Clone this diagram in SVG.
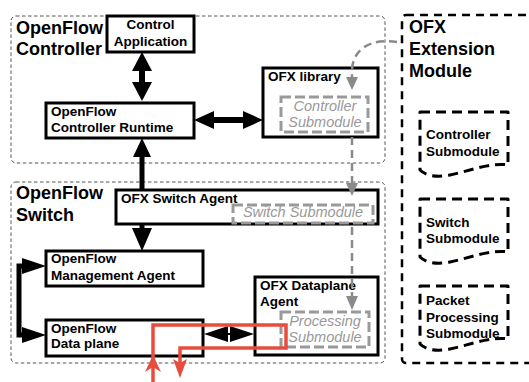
<svg xmlns="http://www.w3.org/2000/svg" width="529" height="382" viewBox="0 0 529 382">
<style>
text{font-family:"Liberation Sans",Arial,sans-serif;}
.title{font-size:18px;font-weight:bold;fill:#000;}
.lbl{font-size:13.5px;font-weight:bold;fill:#000;}
.sub{font-size:14.5px;font-style:italic;fill:#999;}
.region{fill:none;stroke:#555;stroke-width:1;stroke-dasharray:3.5,2.5;}
.node{fill:#fff;stroke:#000;stroke-width:3;}
.gbox{fill:none;stroke:#999;stroke-width:3;stroke-dasharray:10,4;}
.doc{fill:#fff;stroke:#000;stroke-width:3;stroke-dasharray:10,6;stroke-linejoin:round;}
.bl{fill:none;stroke:#000;}
.gl{fill:none;stroke:#8a8a8a;stroke-width:2.5;stroke-dasharray:8,5;}
.gh{fill:#8a8a8a;}
.red{fill:none;stroke:#e84c3d;stroke-width:3.5;}
.rh{fill:#e84c3d;}
</style>

<g id="ofc-region">
<rect class="region" x="11" y="16" width="374" height="147" rx="5"/>
<text class="title" x="16" y="34">OpenFlow</text>
<text class="title" x="16" y="55">Controller</text>
</g>
<g id="ofs-region">
<rect class="region" x="11" y="182" width="374" height="181" rx="5"/>
<text class="title" x="16" y="199">OpenFlow</text>
<text class="title" x="16" y="221">Switch</text>
</g>
<g id="ofx-module">
<rect x="402" y="15" width="140" height="348" rx="4" fill="none" stroke="#000" stroke-width="2.5" stroke-dasharray="8,6"/>
<text class="title" x="409" y="33">OFX</text>
<text class="title" x="409" y="55">Extension</text>
<text class="title" x="409" y="77">Module</text>
</g>

<g id="control-app">
<rect class="node" x="107" y="16" width="87" height="36"/>
<text class="lbl" x="150.5" y="29" text-anchor="middle">Control</text>
<text class="lbl" x="150.5" y="46" text-anchor="middle">Application</text>
</g>
<g id="controller-runtime">
<rect class="node" x="46" y="103" width="148" height="35"/>
<text class="lbl" x="51" y="116">OpenFlow</text>
<text class="lbl" x="51" y="132">Controller Runtime</text>
</g>
<g id="ofx-library">
<rect class="node" x="263" y="68" width="115" height="69"/>
<text class="lbl" x="268" y="81">OFX library</text>
</g>
<g id="controller-submodule">
<rect class="gbox" x="281" y="97" width="87" height="35"/>
<text class="sub" x="325" y="111" text-anchor="middle">Controller</text>
<text class="sub" x="325" y="127" text-anchor="middle">Submodule</text>
</g>
<g id="switch-agent">
<rect class="node" x="116" y="190" width="262" height="34"/>
<text class="lbl" x="121" y="203">OFX Switch Agent</text>
</g>
<g id="switch-submodule">
<rect class="gbox" x="233" y="205" width="140" height="18"/>
<text class="sub" x="303" y="217" text-anchor="middle">Switch Submodule</text>
</g>
<g id="mgmt-agent">
<rect class="node" x="46" y="251" width="157" height="35"/>
<text class="lbl" x="51" y="263">OpenFlow</text>
<text class="lbl" x="51" y="280">Management Agent</text>
</g>
<g id="data-plane">
<rect class="node" x="46" y="320" width="157" height="36"/>
<text class="lbl" x="51" y="333">OpenFlow</text>
<text class="lbl" x="51" y="348">Data plane</text>
</g>
<g id="dataplane-agent">
<rect class="node" x="255" y="277" width="123" height="78"/>
<text class="lbl" x="260" y="290">OFX Dataplane</text>
<text class="lbl" x="260" y="306">Agent</text>
</g>
<g id="processing-submodule">
<rect class="gbox" x="281" y="312" width="88" height="35"/>
<text class="sub" x="325" y="326" text-anchor="middle">Processing</text>
<text class="sub" x="325" y="342" text-anchor="middle">Submodule</text>
</g>

<g id="doc-controller">
<path class="doc" d="M420,112 H508 V165 C490,162 470,171 450,175 C435,178 425,175 420,170 Z"/>
<text class="lbl" x="426" y="139">Controller</text>
<text class="lbl" x="426" y="156">Submodule</text>
</g>
<g id="doc-switch">
<path class="doc" d="M420,199 H508 V252 C490,249 470,258 450,262 C435,265 425,262 420,257 Z"/>
<text class="lbl" x="426" y="227">Switch</text>
<text class="lbl" x="426" y="243">Submodule</text>
</g>
<g id="doc-packet">
<path class="doc" d="M420,286 H508 V339 C490,336 470,345 450,349 C435,352 425,349 420,344 Z"/>
<text class="lbl" x="426" y="305">Packet</text>
<text class="lbl" x="426" y="322">Processing</text>
<text class="lbl" x="426" y="338">Submodule</text>
</g>

<g id="connectors">
<line class="bl" x1="142" y1="68" x2="142" y2="86" stroke-width="6"/>
<polygon points="142,52 132,71 152,71"/>
<polygon points="142,101 132,82 152,82"/>
<line class="bl" x1="212" y1="120" x2="245" y2="120" stroke-width="6"/>
<polygon points="194,120 214,111 214,129"/>
<polygon points="263,120 243,111 243,129"/>
<line class="bl" x1="142" y1="190" x2="142" y2="154" stroke-width="5"/>
<polygon points="142,138 133,157 151,157"/>
<line class="bl" x1="142" y1="224" x2="142" y2="230" stroke-width="5"/>
<polygon points="142,251 132,228 152,228"/>
<path class="bl" d="M24,266 H19 V335 H24" stroke-width="5"/>
<polygon points="46,266 22,258 22,274"/>
<polygon points="46,335 22,327 22,343"/>
<line class="bl" x1="210" y1="334" x2="248" y2="334" stroke-width="2"/>
<polygon points="204,334 228,326 228,342"/>
<polygon points="254,334 230,326 230,342"/>
<path class="gl" d="M397,42 C372,38 353,48 352,70 V78"/>
<polygon class="gh" points="352,90 346,77 358,77"/>
<line class="gl" x1="352" y1="137" x2="352" y2="184"/>
<polygon class="gh" points="352,196 346,183 358,183"/>
<line class="gl" x1="352" y1="227" x2="352" y2="297"/>
<polygon class="gh" points="352,310 346,296 358,296"/>
<path class="red" d="M153,382 V325 H286 V348 H180 V366"/>
<polygon class="rh" points="180,378 187,359 180,363 173,359"/>
<polygon class="rh" points="153,355 161,372 153,367 145,372"/>
</g>
</svg>
